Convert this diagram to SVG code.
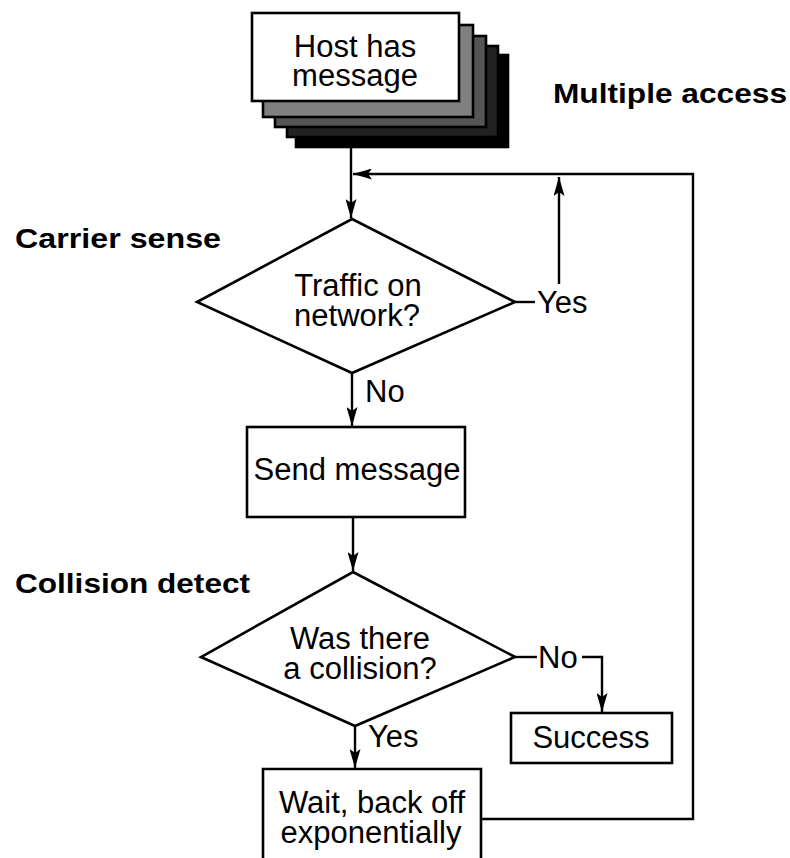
<svg xmlns="http://www.w3.org/2000/svg" width="790" height="858" viewBox="0 0 790 858">
<style>
.box{fill:#fff;stroke:#000;stroke-width:2.6}
.layer{stroke:#000;stroke-width:2.6}
.t{font-family:"Liberation Sans",Arial,Helvetica,sans-serif;font-size:31px;fill:#000}
.c{text-anchor:middle}
.b{font-family:"Liberation Sans",Arial,Helvetica,sans-serif;font-size:28px;font-weight:bold;fill:#000}
.ln{fill:none;stroke:#000;stroke-width:2.4}
.ar{marker-end:url(#ah)}
</style>
<defs>
<marker id="ah" viewBox="0 0 19 11" refX="19" refY="5.5" markerWidth="19" markerHeight="11" markerUnits="userSpaceOnUse" orient="auto">
<path d="M0,0 L19,5.5 L0,11 L4,5.5 Z" fill="#000"/>
</marker>
</defs>

<g id="labels">
<text class="b" x="553" y="103" textLength="234" lengthAdjust="spacingAndGlyphs">Multiple access</text>
<text class="b" x="15" y="248" textLength="206" lengthAdjust="spacingAndGlyphs">Carrier sense</text>
<text class="b" x="15" y="593" textLength="235" lengthAdjust="spacingAndGlyphs">Collision detect</text>
</g>

<g id="connectors">
<line class="ln ar" x1="351" y1="147" x2="351" y2="218"/>
<polyline class="ln ar" points="481,819 693,819 693,174 353,174"/>
<line class="ln" x1="515" y1="302" x2="535" y2="302"/>
<line class="ln ar" x1="559" y1="284" x2="559" y2="177"/>
<line class="ln ar" x1="352" y1="373" x2="352" y2="426"/>
<line class="ln ar" x1="353" y1="517" x2="353" y2="571"/>
<line class="ln" x1="515" y1="657" x2="537" y2="657"/>
<polyline class="ln ar" points="582,657 602,657 602,712"/>
<line class="ln ar" x1="355" y1="726" x2="355" y2="768"/>
<text class="t" x="537" y="313">Yes</text>
<text class="t" x="365" y="402">No</text>
<text class="t" x="538" y="668">No</text>
<text class="t" x="368" y="747">Yes</text>
</g>

<g id="host">
<rect class="layer" x="296" y="55" width="212" height="92" fill="#000"/>
<rect class="layer" x="287" y="46" width="211" height="91" fill="#222"/>
<rect class="layer" x="275" y="36" width="211" height="91" fill="#555"/>
<rect class="layer" x="263" y="25" width="210" height="92" fill="#808080"/>
<rect class="box" x="252" y="13" width="207" height="88"/>
<text class="t c" x="355" y="57">Host has</text>
<text class="t c" x="355" y="86">message</text>
</g>

<g id="traffic">
<polygon class="box" points="352,219 515,302 352,373 197,302"/>
<text class="t c" x="358" y="296">Traffic on</text>
<text class="t c" x="357" y="326">network?</text>
</g>

<g id="send">
<rect class="box" x="247" y="427" width="218" height="90"/>
<text class="t c" x="357" y="480">Send message</text>
</g>

<g id="collision">
<polygon class="box" points="353,572 515,657 355,726 201,657"/>
<text class="t c" x="360" y="649">Was there</text>
<text class="t c" x="360" y="679">a collision?</text>
</g>

<g id="success">
<rect class="box" x="511" y="713" width="161" height="50"/>
<text class="t c" x="591" y="748">Success</text>
</g>

<g id="wait">
<path class="box" d="M263,862 L263,769 L481,769 L481,862"/>
<text class="t c" x="372" y="813">Wait, back off</text>
<text class="t c" x="371" y="843">exponentially</text>
</g>
</svg>
